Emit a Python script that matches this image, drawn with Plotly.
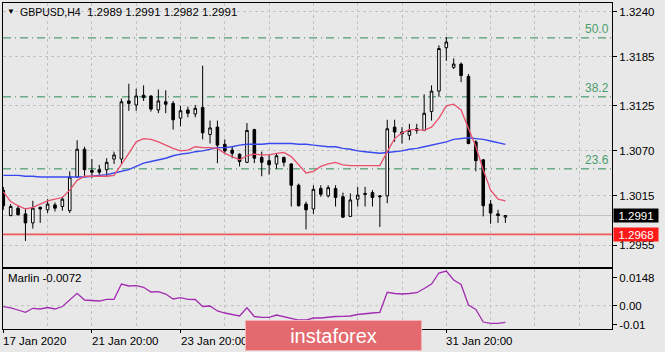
import plotly.graph_objects as go

# ---------------- data ----------------
bars = list(range(69))  # H4 bars from 17 Jan 2020 20:00 to 4 Feb 2020 04:00

opens = [1.3022, 1.2991, 1.3000, 1.2993, 1.2982, 1.3001, 1.2998, 1.3004, 1.3002, 1.2997,
         1.3038, 1.3072, 1.3046, 1.3047, 1.3047, 1.3060, 1.3060, 1.3131, 1.3126, 1.3138,
         1.3137, 1.3120, 1.3130, 1.3128, 1.3110, 1.3120, 1.3115, 1.3123, 1.3090, 1.3099,
         1.3078, 1.3071, 1.3066, 1.3056, 1.3096, 1.3062, 1.3058, 1.3054, 1.3062, 1.3054,
         1.3028, 1.3005, 1.2999, 1.3024, 1.3015, 1.3024, 1.3014, 1.2990, 1.3011, 1.3018,
         1.3019, 1.3015, 1.3015, 1.3099, 1.3093, 1.3089, 1.3097, 1.3095, 1.3118, 1.3143,
         1.3196, 1.3172, 1.3176, 1.3161, 1.3081, 1.3059, 1.3005, 1.2993, 1.2989]
highs = [1.3026, 1.3005, 1.3003, 1.3000, 1.3009, 1.3002, 1.3011, 1.3007, 1.3014, 1.3045,
         1.3083, 1.3075, 1.3060, 1.3053, 1.3061, 1.3069, 1.3134, 1.3152, 1.3146, 1.3150,
         1.3138, 1.3145, 1.3144, 1.3131, 1.3125, 1.3124, 1.3126, 1.3174, 1.3107, 1.3107,
         1.3084, 1.3076, 1.3067, 1.3104, 1.3097, 1.3069, 1.3065, 1.3067, 1.3063, 1.3055,
         1.3030, 1.3008, 1.3028, 1.3028, 1.3028, 1.3028, 1.3019, 1.3018, 1.3026, 1.3026,
         1.3022, 1.3016, 1.3108, 1.3108, 1.3099, 1.3103, 1.3103, 1.3139, 1.3150, 1.3199,
         1.3209, 1.3183, 1.3178, 1.3164, 1.3083, 1.3060, 1.3010, 1.2998, 1.2991]
lows = [1.2998, 1.2990, 1.2991, 1.2960, 1.2975, 1.2982, 1.2994, 1.2996, 1.2997, 1.2994,
        1.3037, 1.3038, 1.3037, 1.3041, 1.3038, 1.3054, 1.3054, 1.3119, 1.3119, 1.3131,
        1.3118, 1.3116, 1.3116, 1.3096, 1.3100, 1.3111, 1.3111, 1.3084, 1.3079, 1.3055,
        1.3067, 1.3061, 1.3051, 1.3055, 1.3055, 1.3039, 1.3041, 1.3048, 1.3051, 1.3002,
        1.3002, 1.2974, 1.2993, 1.3014, 1.3013, 1.3002, 1.2988, 1.2989, 1.3002, 1.3002,
        1.3002, 1.2977, 1.3006, 1.3081, 1.3079, 1.3083, 1.3091, 1.3094, 1.3107, 1.3136,
        1.3180, 1.3170, 1.3154, 1.3078, 1.3045, 1.2990, 1.2981, 1.2982, 1.2982]
closes = [1.3003, 1.3002, 1.2992, 1.2982, 1.3000, 1.2999, 1.3005, 1.3000, 1.3011, 1.3038,
          1.3072, 1.3047, 1.3044, 1.3044, 1.3056, 1.3065, 1.3130, 1.3128, 1.3137, 1.3135,
          1.3121, 1.3131, 1.3127, 1.3108, 1.3119, 1.3116, 1.3122, 1.3092, 1.3098, 1.3077,
          1.3070, 1.3067, 1.3057, 1.3095, 1.3061, 1.3056, 1.3053, 1.3064, 1.3056, 1.3028,
          1.3003, 1.2998, 1.3023, 1.3017, 1.3025, 1.3013, 1.2989, 1.3010, 1.3016, 1.3017,
          1.3013, 1.3014, 1.3097, 1.3093, 1.3091, 1.3095, 1.3095, 1.3116, 1.3143, 1.3195,
          1.3203, 1.3176, 1.3162, 1.3079, 1.3058, 1.3003, 1.2994, 1.2991, 1.2991]

ma_fast = [1.3020, 1.3008, 1.3003, 1.2999, 1.3001, 1.3005, 1.3009, 1.3011, 1.3013, 1.3022,
           1.3034, 1.3039, 1.3039, 1.3039, 1.3039, 1.3040, 1.3053, 1.3067, 1.3081, 1.3085,
           1.3084, 1.3081, 1.3077, 1.3073, 1.3070, 1.3071, 1.3075, 1.3074, 1.3074, 1.3073,
           1.3067, 1.3063, 1.3059, 1.3064, 1.3066, 1.3065, 1.3065, 1.3067, 1.3068, 1.3063,
           1.3053, 1.3043, 1.3045, 1.3051, 1.3054, 1.3056, 1.3053, 1.3052, 1.3052, 1.3052,
           1.3052, 1.3052, 1.3069, 1.3085, 1.3092, 1.3096, 1.3096, 1.3095, 1.3099, 1.3110,
           1.3125, 1.3127, 1.3120, 1.3098, 1.3075, 1.3047, 1.3022, 1.3011, 1.3009]
ma_slow = [1.3040, 1.3040, 1.3040, 1.3039, 1.3039, 1.3038, 1.3038, 1.3038, 1.3038, 1.3038,
           1.3038, 1.3038, 1.3039, 1.3040, 1.3041, 1.3043, 1.3045, 1.3047, 1.3051, 1.3055,
           1.3057, 1.3059, 1.3061, 1.3064, 1.3066, 1.3067, 1.3069, 1.3070, 1.3072, 1.3074,
           1.3074, 1.3075, 1.3077, 1.3078, 1.3078, 1.3078, 1.3079, 1.3079, 1.3079, 1.3079,
           1.3078, 1.3078, 1.3077, 1.3076, 1.3075, 1.3075, 1.3073, 1.3072, 1.3070, 1.3069,
           1.3068, 1.3067, 1.3068, 1.3069, 1.3070, 1.3072, 1.3073, 1.3075, 1.3077, 1.3079,
           1.3081, 1.3084, 1.3085, 1.3086, 1.3085, 1.3084, 1.3082, 1.3080, 1.3078]

marlin = [-0.00053, -0.00111, -0.00227, -0.00349, -0.00137, -0.00174, -0.00095, -0.00174, -0.00042, 0.00301,
          0.00655, 0.00301, 0.00275, 0.00248, 0.00338, 0.00338, 0.01147, 0.01041, 0.01057, 0.00973,
          0.00724, 0.00740, 0.00618, 0.00354, 0.00423, 0.00338, 0.00328, -0.00042, -0.00016, -0.00280,
          -0.00386, -0.00465, -0.00544, -0.00106, -0.00571, -0.00613, -0.00613, -0.00492, -0.00581, -0.00703,
          -0.00756, -0.00756, -0.00650, -0.00650, -0.00597, -0.00571, -0.00560, -0.00544, -0.00465, -0.00412,
          -0.00386, -0.00349, 0.00708, 0.00645, 0.00618, 0.00645, 0.00687, 0.00909, 0.01147, 0.01728,
          0.01834, 0.01358, 0.01121, 0.00037, -0.00201, -0.00862, -0.00930, -0.00930, -0.00877]
marlin_shown = -0.0072

fib_levels = [1.3208, 1.3136, 1.3048]
fib_labels = ["50.0", "38.2", "23.6"]
support_level = 1.2968
price_ticks = [1.3240, 1.3185, 1.3125, 1.3070, 1.3015, 1.2955]
marlin_ticks = [0.0148, 0.0, -0.01]
marlin_tick_text = ["0.0148", "0.00", "-0.01"]
date_ticks = [0, 12, 24, 36, 48, 60]
date_labels = ["17 Jan 2020", "21 Jan 20:00", "23 Jan 20:00", "", "", "31 Jan 20:00"]  # 27/29 Jan hidden by the logo
day_grid = [0, 6, 12, 18, 24, 30, 36, 42, 48, 54, 60, 66, 72, 78]
symbol = "GBPUSD,H4"

# ---------------- styling ----------------
BG = "#e8e8e8"
GRID = "#c2c2c2"
GDASH = "3px,3px"
FONT = "Liberation Sans, Arial, sans-serif"
FS = 11.5
XR = [-0.04, 82.44]

fig = go.Figure()
fig.add_trace(go.Candlestick(
    x=bars, open=opens, high=highs, low=lows, close=closes,
    increasing=dict(line=dict(color="black", width=1), fillcolor="white"),
    decreasing=dict(line=dict(color="black", width=1), fillcolor="black"),
    whiskerwidth=0, xaxis="x", yaxis="y", showlegend=False))
fig.add_trace(go.Scatter(x=bars, y=ma_slow, mode="lines",
                         line=dict(color="#3848ee", width=1.4), xaxis="x", yaxis="y"))
fig.add_trace(go.Scatter(x=bars, y=ma_fast, mode="lines",
                         line=dict(color="#e8506c", width=1.3), xaxis="x", yaxis="y"))
fig.add_trace(go.Scatter(x=bars, y=marlin, mode="lines",
                         line=dict(color="#a22cb0", width=1.3), xaxis="x2", yaxis="y2"))

shapes = []
for lv in fib_levels:
    shapes.append(dict(type="line", xref="x domain", x0=0, x1=1, yref="y", y0=lv, y1=lv,
                       line=dict(color="#2e8b57", width=1, dash="8px,4px,1px,4px"), layer="below"))
shapes.append(dict(type="line", xref="x domain", x0=0, x1=1, yref="y", y0=closes[-1], y1=closes[-1],
                   line=dict(color="#c4c4c4", width=1), layer="below"))
shapes.append(dict(type="line", xref="x domain", x0=0, x1=1, yref="y", y0=support_level, y1=support_level,
                   line=dict(color="#ee5a5a", width=1.6), layer="below"))
shapes.append(dict(type="line", xref="x2 domain", x0=0, x1=1, yref="y2", y0=0, y1=0,
                   line=dict(color=GRID, width=1, dash=GDASH), layer="below"))

W, H = 665, 352
ML, MR, MT, MB = 3, 53, 3, 23
PW, PH = W - ML - MR, H - MT - MB


def px(x):
    return (x - ML) / PW


def py(y):
    return (H - MB - y) / PH


ann = []
ann.append(dict(xref="paper", yref="paper", x=px(5), y=py(12), xanchor="left", yanchor="middle",
                text="▼", showarrow=False, font=dict(size=8, color="black", family=FONT)))
ann.append(dict(xref="paper", yref="paper", x=px(18), y=py(12), xanchor="left", yanchor="middle",
                text=symbol, showarrow=False, font=dict(size=10.5, color="black", family=FONT)))
ann.append(dict(xref="paper", yref="paper", x=px(85), y=py(12), xanchor="left", yanchor="middle",
                text=" ".join(f"{v:.4f}" for v in [opens[-1], highs[-1], lows[-1], closes[-1]]),
                showarrow=False, font=dict(size=FS, color="black", family=FONT)))
for lv, lb in zip(fib_levels, fib_labels):
    ann.append(dict(xref="x domain", yref="y", x=1, y=lv, xanchor="right", yanchor="bottom",
                    xshift=-1, yshift=0, text=lb, showarrow=False,
                    font=dict(size=12, color="#4a9e6c", family=FONT)))
ann.append(dict(xref="paper", yref="y", x=1, y=closes[-1], xanchor="left", yanchor="middle", xshift=1,
                text=f"{closes[-1]:.4f}", showarrow=False, bgcolor="black", width=42, height=11, borderpad=1,
                font=dict(size=FS, color="white", family=FONT)))
ann.append(dict(xref="paper", yref="y", x=1, y=support_level, xanchor="left", yanchor="middle", xshift=1,
                text=f"{support_level:.4f}", showarrow=False, bgcolor="#ff1a1a", width=42, height=11, borderpad=1,
                font=dict(size=FS, color="white", family=FONT)))
ann.append(dict(xref="paper", yref="paper", x=px(6), y=py(278), xanchor="left", yanchor="middle",
                text=f"Marlin {marlin_shown:.4f}", showarrow=False,
                font=dict(size=FS, color="black", family=FONT)))
for t, lb in zip(date_ticks, date_labels):
    if lb:
        ann.append(dict(xref="x2", yref="paper", x=t, y=py(341), xanchor="left", yanchor="middle", xshift=-2,
                        text=lb, showarrow=False, font=dict(size=FS, color="black", family=FONT)))
# watermark
ann.append(dict(xref="paper", yref="paper", x=px(333.5), y=py(335.5), xanchor="center", yanchor="middle",
                text="instaforex", showarrow=False, bgcolor="#e36a6e", bordercolor="#f2b4b4", borderwidth=1,
                borderpad=0, width=175, height=29, font=dict(size=20, color="white", family=FONT)))

main_bottom = py(266.5)
ind_top = py(268.5)

fig.update_layout(
    width=W, height=H, margin=dict(l=ML, r=MR, t=MT, b=MB),
    paper_bgcolor=BG, plot_bgcolor=BG, showlegend=False, boxgap=0.5,
    font=dict(family=FONT, size=FS, color="black"),
    shapes=shapes, annotations=ann,
    xaxis=dict(domain=[0, 1], anchor="y", range=XR, rangeslider=dict(visible=False),
               tickmode="array", tickvals=day_grid, showticklabels=False, ticks="",
               showgrid=True, gridcolor=GRID, griddash=GDASH, gridwidth=1,
               showline=True, mirror=True, linecolor="black", linewidth=1, zeroline=False),
    xaxis2=dict(domain=[0, 1], anchor="y2", range=XR, matches="x",
                tickmode="array", tickvals=date_ticks, showticklabels=False,
                ticks="outside", ticklen=3, tickcolor="black", tickwidth=1,
                showgrid=True, gridcolor=GRID, griddash=GDASH, gridwidth=1,
                minor=dict(tickmode="array", tickvals=[d for d in day_grid if d not in date_ticks],
                           showgrid=True, gridcolor=GRID, griddash=GDASH, gridwidth=1, ticks=""),
                showline=True, mirror=True, linecolor="black", linewidth=1, zeroline=False),
    yaxis=dict(domain=[main_bottom, 1], anchor="x", side="right", range=[1.292874, 1.325063],
               tickmode="array", tickvals=price_ticks, ticktext=[f"{v:.4f}" for v in price_ticks],
               ticks="outside", ticklen=4, tickcolor="black",
               showgrid=True, gridcolor=GRID, griddash=GDASH, gridwidth=1,
               showline=True, mirror=True, linecolor="black", linewidth=1, zeroline=False,
               tickfont=dict(size=FS, color="black", family=FONT)),
    yaxis2=dict(domain=[0, ind_top], anchor="x2", side="right", range=[-0.01231, 0.01966],
                tickmode="array", tickvals=marlin_ticks, ticktext=marlin_tick_text,
                ticks="outside", ticklen=4, tickcolor="black", showgrid=False,
                showline=True, mirror=True, linecolor="black", linewidth=1, zeroline=False,
                tickfont=dict(size=FS, color="black", family=FONT)),
)

fig.write_html("out.html")
